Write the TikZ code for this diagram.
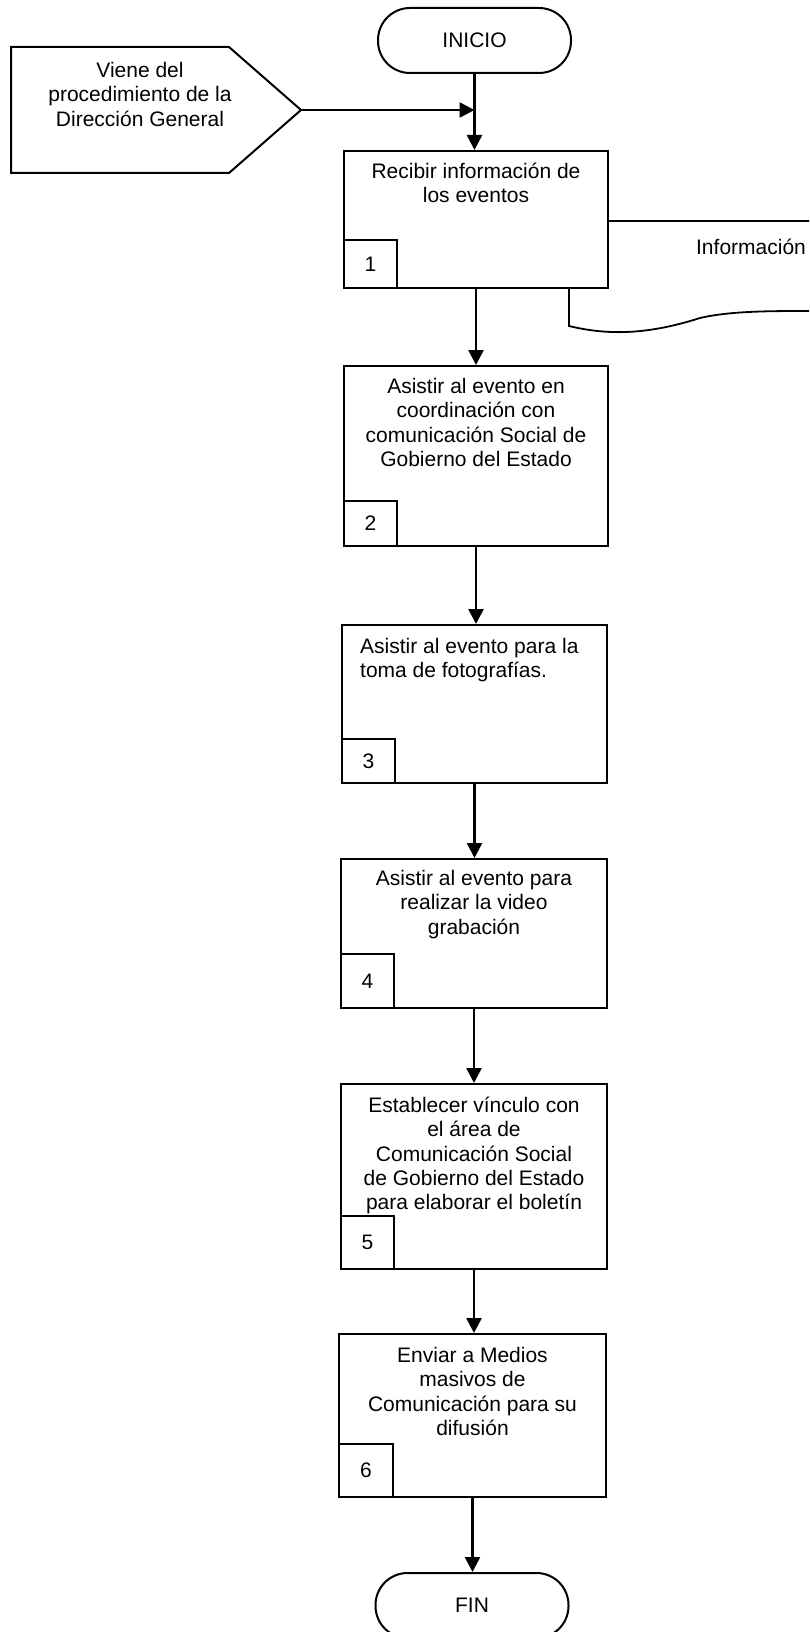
\documentclass[tikz,border=0pt]{standalone}
\usepackage{fontspec}
\setmainfont{Liberation Sans}
\usetikzlibrary{arrows.meta,calc}

\begin{document}
\begin{tikzpicture}[x=1pt,y=-1pt,
  every node/.style={font=\fontsize{21}{24.3}\selectfont},
  box/.style={draw, line width=2pt, fill=white, inner sep=0pt, anchor=north west},
  numbox/.style={draw, line width=2pt, fill=white, inner sep=0pt, minimum width=53pt, anchor=south west},
  txt/.style={inner sep=0pt, align=center, anchor=north},
  term/.style={draw, line width=2pt, fill=white, rounded corners=32pt, minimum width=193pt, minimum height=65pt, inner sep=0pt},
  arr/.style={line width=2.5pt, -{Triangle[length=15pt,width=15pt]}},
  outline/.style={line width=2pt},
  docline/.style={line width=1.8pt}
]
\useasboundingbox (0,0) rectangle (809,1632);
\clip (0,0) rectangle (809,1632);

% off-page connector coming from the other procedure
\draw[outline] (11,47) -- (229,47) -- (301,110) -- (229,173) -- (11,173) -- cycle;
\coordinate (vtip) at (301,110);
\node[txt] (tv) at (140,62) {Viene del\\procedimiento de la\\Dirección General};

% start terminal
\node[term] (inicio) at (474.5,40.5) {INICIO};

% document produced by step 1 (partly behind the step box)
\draw[docline, fill=white] (569,221) -- (880,221) -- (880,311) -- (809,311)
  .. controls (770,311) and (730,311) .. (700,318)
  .. controls (650,334) and (610,336) .. (569,326) -- cycle;
\node (info) at (751,247) {Información};

% process steps
\node[box, minimum width=264pt, minimum height=137pt] (b1) at (343,150) {};
\node[numbox, minimum height=48pt] (n1) at (b1.south west) {1};
\node[txt] (t1) at ([yshift=-13pt]b1.north) {Recibir información de\\los eventos};

\node[box, minimum width=264pt, minimum height=180pt] (b2) at (343,365) {};
\node[numbox, minimum height=45pt] (n2) at (b2.south west) {2};
\node[txt] (t2) at ([yshift=-13pt]b2.north) {Asistir al evento en\\coordinación con\\comunicación Social de\\Gobierno del Estado};

\node[box, minimum width=265pt, minimum height=158pt] (b3) at (341,624) {};
\node[numbox, minimum height=44pt] (n3) at (b3.south west) {3};
\node[txt, align=left, anchor=north west] (t3) at ([xshift=19pt,yshift=-14pt]b3.north west) {Asistir al evento para la\\toma de fotografías.};

\node[box, minimum width=266pt, minimum height=149pt] (b4) at (340,858) {};
\node[numbox, minimum height=54pt] (n4) at (b4.south west) {4};
\node[txt] (t4) at ([yshift=-12pt]b4.north) {Asistir al evento para\\realizar la video\\grabación};

\node[box, minimum width=266pt, minimum height=185pt] (b5) at (340,1083) {};
\node[txt] (t5) at ([yshift=-14pt]b5.north) {Establecer vínculo con\\el área de\\Comunicación Social\\de Gobierno del Estado\\para elaborar el boletín};
\node[numbox, minimum height=53pt] (n5) at (b5.south west) {5};

\node[box, minimum width=267pt, minimum height=163pt] (b6) at (338,1333) {};
\node[numbox, minimum height=53pt, minimum width=54pt] (n6) at (b6.south west) {6};
\node[txt] (t6) at ([yshift=-14pt]b6.north) {Enviar a Medios\\masivos de\\Comunicación para su\\difusión};

% end terminal
\node[term] (fin) at (472,1605.5) {FIN};

% flow
\draw[arr] (vtip) -- (vtip -| inicio.south);
\draw[arr] (inicio.south) -- (inicio.south |- b1.north);
\draw[arr] (b1.south) -- (b1.south |- b2.north);
\draw[arr] (b2.south) -- (b2.south |- b3.north);
\draw[arr] (b3.south) -- (b3.south |- b4.north);
\draw[arr] (b4.south) -- (b4.south |- b5.north);
\draw[arr] (b5.south) -- (b5.south |- b6.north);
\draw[arr] (b6.south) -- (b6.south |- fin.north);
\end{tikzpicture}
\end{document}
